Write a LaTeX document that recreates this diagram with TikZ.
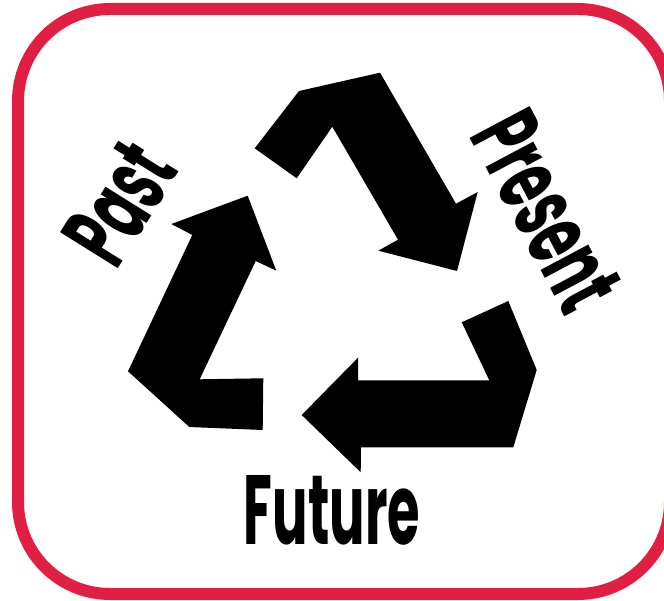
\documentclass[tikz,border=0pt]{standalone}
\usepackage{graphicx}
\usepackage{fontspec}
\setmainfont{Poppins}[BoldFont={Poppins Bold}]
\definecolor{framered}{HTML}{E01F43}
\tikzset{
  arrowshape/.style={fill=black,draw=none},
  frameline/.style={draw=framered,line width=12pt,rounded corners=92pt},
  cyclelabel/.style={inner sep=0pt,font=\bfseries,text=black}
}
\begin{document}
\begin{tikzpicture}[x=1pt,y=-1pt]
\useasboundingbox[fill=white] (0,0) rectangle (664,601);
\clip (0,0) rectangle (664,601);
\draw[frameline] (18,9) rectangle (670,594);
% top arrow
\fill[arrowshape] (254.7,148.3) -- (299,91) -- (380,72.7) -- (456,203.7) -- (477.7,192) -- (457,271) -- (378.3,250.7) -- (398,239.7) -- (332.3,126.7) -- (296.7,178.3) -- cycle;
% left arrow
\fill[arrowshape] (247.7,195.7) -- (276.3,270.7) -- (255.7,261) -- (199.7,379.3) -- (263.3,378.3) -- (262.7,430) -- (189.3,427) -- (128,371.3) -- (192.3,235) -- (171.3,224) -- cycle;
% bottom arrow
\fill[arrowshape] (508.3,301) -- (536.7,370) -- (513.3,447.3) -- (361,447.3) -- (360.7,472.3) -- (301.7,415) -- (358,357.7) -- (358,380.3) -- (489.3,380.3) -- (461.7,322.3) -- cycle;
\node[cyclelabel,rotate=58] (past) at (120,203) {\resizebox{120pt}{68pt}{Past}};
\node[cyclelabel,rotate=-62] (present) at (547,211) {\resizebox{207pt}{68pt}{Present}};
\node[cyclelabel] (future) at (332,510) {\resizebox{176pt}{69pt}{Future}};
\end{tikzpicture}
\end{document}
